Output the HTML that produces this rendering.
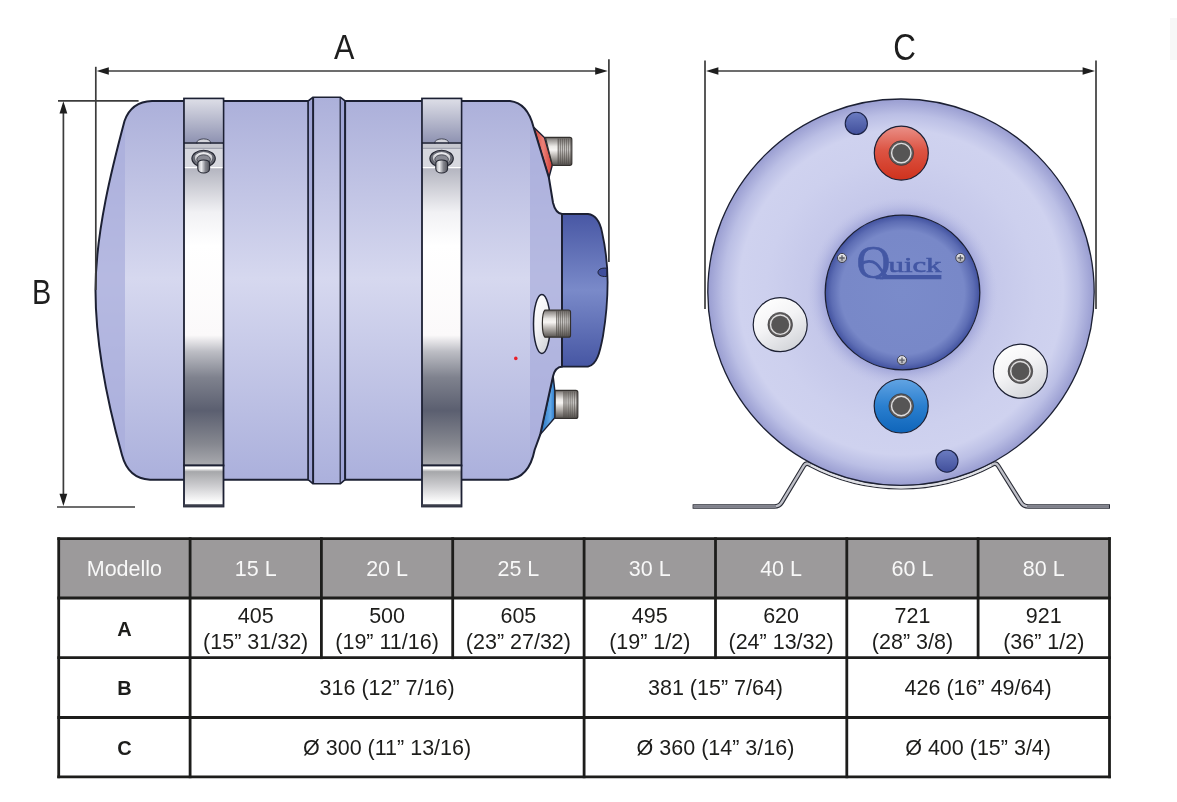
<!DOCTYPE html>
<html><head><meta charset="utf-8"><title>Boiler dimensions</title>
<style>
html,body{margin:0;padding:0;background:#fff;}
body{width:1177px;height:802px;overflow:hidden;font-family:"Liberation Sans",sans-serif;}
svg{display:block;will-change:transform}
</style></head><body>
<svg width="1177" height="802" viewBox="0 0 1177 802" font-family="Liberation Sans, sans-serif">
<defs>
<linearGradient id="gBody" x1="0" y1="0" x2="0" y2="1">
 <stop offset="0" stop-color="#acb0da"/><stop offset="0.47" stop-color="#d6d8ef"/><stop offset="1" stop-color="#abb0dc"/>
</linearGradient>
<linearGradient id="gStrap" x1="0" y1="0" x2="0" y2="1">
 <stop offset="0" stop-color="#9fa3ba"/><stop offset="0.19" stop-color="#b4b5c0"/><stop offset="0.31" stop-color="#f1f1f4"/><stop offset="0.40" stop-color="#ffffff"/><stop offset="0.645" stop-color="#fbf9fa"/>
 <stop offset="0.69" stop-color="#bcbdc4"/><stop offset="0.76" stop-color="#7f828e"/><stop offset="0.85" stop-color="#5b5f70"/><stop offset="0.94" stop-color="#85878f"/><stop offset="1" stop-color="#a9aaaf"/>
</linearGradient>
<linearGradient id="gStrapTop" x1="0" y1="0" x2="0" y2="1">
 <stop offset="0" stop-color="#dcdde6"/><stop offset="1" stop-color="#8f93b2"/>
</linearGradient>
<linearGradient id="gFoot" x1="0" y1="0" x2="0" y2="1">
 <stop offset="0" stop-color="#ffffff"/><stop offset="0.07" stop-color="#ffffff"/><stop offset="0.15" stop-color="#a6a7aa"/><stop offset="0.5" stop-color="#cdcdd0"/><stop offset="0.88" stop-color="#fcfcfc"/><stop offset="1" stop-color="#ffffff"/>
</linearGradient>
<linearGradient id="gCap" x1="0" y1="0" x2="0" y2="1">
 <stop offset="0" stop-color="#4857a4"/><stop offset="0.5" stop-color="#7a8ac9"/><stop offset="1" stop-color="#4656a3"/>
</linearGradient>
<linearGradient id="gPipe" x1="0" y1="0" x2="0" y2="1">
 <stop offset="0" stop-color="#55514e"/><stop offset="0.08" stop-color="#96928f"/><stop offset="0.32" stop-color="#ebe9e6"/><stop offset="0.45" stop-color="#f7f5f3"/><stop offset="0.62" stop-color="#c6c2be"/><stop offset="0.82" stop-color="#8c8884"/><stop offset="1" stop-color="#56524f"/>
</linearGradient>
<radialGradient id="gDisc" cx="0.5" cy="0.5" r="0.5">
 <stop offset="0" stop-color="#bcc0e6"/><stop offset="0.42" stop-color="#c3c6e9"/><stop offset="0.7" stop-color="#cdd0ee"/><stop offset="0.84" stop-color="#cfd2ef"/><stop offset="0.92" stop-color="#bbbfe5"/><stop offset="1" stop-color="#999dd1"/>
</radialGradient>
<radialGradient id="gCapF" cx="0.5" cy="0.5" r="0.5">
 <stop offset="0" stop-color="#7a8bca"/><stop offset="0.80" stop-color="#7888c8"/><stop offset="0.92" stop-color="#5d6db4"/><stop offset="1" stop-color="#4252a0"/>
</radialGradient>
<linearGradient id="gWhite" x1="0.2" y1="0" x2="0.8" y2="1">
 <stop offset="0" stop-color="#ffffff"/><stop offset="0.45" stop-color="#f3f3f5"/><stop offset="1" stop-color="#cfd1d6"/>
</linearGradient>
<linearGradient id="gRed" x1="0" y1="0" x2="0" y2="1">
 <stop offset="0" stop-color="#ea9088"/><stop offset="0.45" stop-color="#dc5443"/><stop offset="1" stop-color="#cf321d"/>
</linearGradient>
<linearGradient id="gBlue" x1="0" y1="0" x2="0" y2="1">
 <stop offset="0" stop-color="#62a4e3"/><stop offset="0.5" stop-color="#2a7fcf"/><stop offset="1" stop-color="#0f65ba"/>
</linearGradient>
<linearGradient id="gDot" x1="0" y1="0" x2="0" y2="1">
 <stop offset="0" stop-color="#6b7cc1"/><stop offset="1" stop-color="#414f9b"/>
</linearGradient>
<linearGradient id="gRedS" x1="0" y1="0" x2="1" y2="0"><stop offset="0" stop-color="#d43c34"/><stop offset="0.5" stop-color="#ea8279"/><stop offset="1" stop-color="#d43c34"/></linearGradient>
<linearGradient id="gBlueS" x1="0" y1="0" x2="1" y2="0"><stop offset="0" stop-color="#1f6fbe"/><stop offset="0.7" stop-color="#63a8e6"/><stop offset="1" stop-color="#2a7acb"/></linearGradient>
<linearGradient id="gNut" x1="0" y1="0" x2="1" y2="0"><stop offset="0" stop-color="#a9aab0"/><stop offset="0.3" stop-color="#ededf0"/><stop offset="0.65" stop-color="#83848c"/><stop offset="1" stop-color="#55565e"/></linearGradient>
<linearGradient id="gWash" x1="0" y1="0" x2="0" y2="1"><stop offset="0" stop-color="#f4f4f6"/><stop offset="1" stop-color="#a6a7ae"/></linearGradient>
<radialGradient id="gHalo" cx="0.5" cy="0.5" r="0.5"><stop offset="0.8" stop-color="#9297d2" stop-opacity="0.75"/><stop offset="0.9" stop-color="#9ea3d8" stop-opacity="0.3"/><stop offset="1" stop-color="#b9bde5" stop-opacity="0"/></radialGradient>
<clipPath id="cTank"><path id="pTank" d="M152,101 C138,101.500 129,108 124.500,121 C112.500,166 95.500,232 95.500,290 C95.500,348 110,412 122,455 C126,470 134,478.900 150,479.700 L507,479.700 C523,478.900 531,468 534.600,450 L540.200,434.600 L553.100,376 C554.500,370 557,367 562,366.400 L562,214 C557,213.300 554.500,209 553,202.700 L548.900,177.800 L533.500,127 C530,113 523,102.500 510,101 Z"/></clipPath>

</defs>
<rect width="1177" height="802" fill="#ffffff"/>
<g id="side">
<!-- blue/red fittings behind body -->
<path d="M533.500,127 L544.400,137.400 L552.400,164.800 L548.900,177.800 Z" fill="url(#gRedS)" stroke="#1c2033" stroke-width="1.400" stroke-linejoin="round"/>
<path d="M553.100,375.700 L554.800,390.300 L554.800,417.800 L540.200,434.600 Z" fill="url(#gBlueS)" stroke="#1c2033" stroke-width="1.400" stroke-linejoin="round"/>
<!-- pipes -->
<g id="pipeTop"><path d="M545.400,137.400 H569.800 Q571.800,137.400 571.800,139.400 V163.300 Q571.800,165.300 569.800,165.300 H552.400 Z" fill="url(#gPipe)" stroke="#33302e" stroke-width="1.200"/>
<path d="M558.2,138.6V164.2M560.2,138.6V164.2M562.2,138.6V164.2M564.2,138.6V164.2M566.2,138.6V164.2M568.2,138.6V164.2M570.2,138.6V164.2" stroke="#4b4744" stroke-width="1" fill="none" opacity="0.9"/></g>
<g id="pipeBot"><path d="M555.200,390.300 H575.800 Q577.800,390.300 577.800,392.300 V416.400 Q577.800,418.400 575.800,418.400 H555.200 Z" fill="url(#gPipe)" stroke="#33302e" stroke-width="1.200"/>
<path d="M564.0,391.5V417.2M566.0,391.5V417.2M568.1,391.5V417.2M570.1,391.5V417.2M572.1,391.5V417.2M574.2,391.5V417.2M576.2,391.5V417.2" stroke="#4b4744" stroke-width="1" fill="none" opacity="0.9"/></g>
<!-- cap -->
<path d="M561,214 L588,214 C596,215 600,222 602,232 C606,250 607.600,266 607.600,282 C607.600,300 606,318 603,336 C600,352 597,365 588,366.600 L561,366.600 Z" fill="url(#gCap)" stroke="#1c2033" stroke-width="1.8"/>
<path d="M606.800,268.200 C600.500,267.500 598,270 598,272.300 C598,274.600 600.500,277 606.800,276.400 Z" fill="#3f4e9c" stroke="#1c2033" stroke-width="1"/>
<!-- body -->
<use href="#pTank" fill="url(#gBody)"/>
<g clip-path="url(#cTank)">
 <rect x="90" y="95" width="35" height="390" fill="#a8addb" opacity="0.7"/>
 <rect x="530" y="95" width="40" height="390" fill="#a8addb" opacity="0.7"/>
</g>
<use href="#pTank" fill="none" stroke="#1c2033" stroke-width="2"/>
<!-- center ring -->
<path d="M308.200,101 L313.100,97.200 L340.200,97.200 L345.100,101 L345.100,479.700 L340.200,483.800 L313.100,483.800 L308.200,479.700 Z" fill="url(#gBody)" stroke="#1c2033" stroke-width="1.6" stroke-linejoin="round"/>
<rect x="308.200" y="101" width="4.900" height="378.700" fill="#8d93cd" opacity="0.5"/>
<rect x="340.200" y="101" width="4.900" height="378.700" fill="#8d93cd" opacity="0.5"/>
<path d="M313.100,97.200V483.800" stroke="#1c2033" stroke-width="2"/>
<path d="M340.200,97.200V483.800" stroke="#1c2033" stroke-width="1.200"/>
<path d="M308.200,101V479.700" stroke="#1c2033" stroke-width="1.200"/>
<path d="M345.100,101V479.700" stroke="#1c2033" stroke-width="2"/>
<!-- straps -->
<g id="strap1">
 <rect x="184" y="98.500" width="39.500" height="367" fill="url(#gStrap)" stroke="#1c2033" stroke-width="1.8"/>
 <rect x="184.900" y="99.400" width="37.700" height="43" fill="url(#gStrapTop)"/>
 <rect x="184" y="465.500" width="39.500" height="41" fill="url(#gFoot)" stroke="#1c2033" stroke-width="1.8"/>
 <path d="M184,505.500H223.500" stroke="#3a3d4a" stroke-width="2.500"/>
 <ellipse cx="203.700" cy="142.700" rx="7" ry="3.800" fill="#d3d4db" stroke="#3a3d4c" stroke-width="0.900"/>
 <rect x="184.900" y="143.600" width="37.700" height="4.600" fill="#c6c7cf"/>
 <path d="M184,143H223.500" stroke="#1c2033" stroke-width="1.400"/>
 <rect x="184.900" y="148.500" width="37.700" height="19" fill="#d7d8df"/>
 <path d="M184.900,148.300H222.600" stroke="#8e90a0" stroke-width="0.800"/>
 <path d="M184.900,167.600H222.600" stroke="#ffffff" stroke-width="1.200"/>
 <ellipse cx="203.600" cy="158.600" rx="11.700" ry="8.300" fill="#6c6e78" stroke="#262833" stroke-width="1.100"/>
 <ellipse cx="203.600" cy="158" rx="9.300" ry="6.300" fill="url(#gWash)" stroke="#4a4c57" stroke-width="0.700"/>
 <ellipse cx="203.600" cy="159.300" rx="6.800" ry="4.500" fill="#8a8b94" stroke="#3a3c46" stroke-width="0.800"/>
 <path d="M197.800,163.500 C197.800,158.800 209.600,158.800 209.600,163.500 L209.600,168.500 C209.600,174.500 197.800,174.500 197.800,168.500 Z" fill="url(#gNut)" stroke="#262833" stroke-width="1.100"/>
</g>
<use href="#strap1" x="238"/>
<!-- white ellipse + middle pipe -->
<ellipse cx="541.900" cy="324" rx="8.400" ry="29.500" fill="url(#gWhite)" stroke="#1c2033" stroke-width="1.500"/>
<g id="pipeMid"><path d="M545,310 H568.500 Q570.500,310 570.500,312 V335.200 Q570.500,337.200 568.500,337.200 H545 C541.500,334 541.500,313 545,310 Z" fill="url(#gPipe)" stroke="#33302e" stroke-width="1.200"/>
<path d="M556.8,311.2V336.0M558.8,311.2V336.0M560.8,311.2V336.0M562.8,311.2V336.0M564.9,311.2V336.0M566.9,311.2V336.0M568.9,311.2V336.0" stroke="#4b4744" stroke-width="1" fill="none" opacity="0.9"/></g>
<circle cx="515.800" cy="358.400" r="1.800" fill="#e8202a"/>
<!-- dimension A -->
<g stroke="#3c3c3c" stroke-width="1.700" fill="none">
 <path d="M95.800,66.800V290"/><path d="M608.900,59.200V262"/><path d="M100,71H604"/>
 <path d="M58,100.900H138.600"/><path d="M57,507H135"/><path d="M63.400,105V502"/>
</g>
<g fill="#1e1e1e">
 <path d="M96.600,71L108.800,67.200V74.800Z"/><path d="M607.800,71L595.200,67.200V74.800Z"/>
 <path d="M63.400,101.300L59.500,113.400H67.300Z"/><path d="M63.400,506L59.500,493.800H67.300Z"/>
</g>
<text transform="translate(344.300,59.100) scale(0.850,1)" text-anchor="middle" font-size="36" fill="#1e1e1e">A</text>
<text transform="translate(41.700,304.200) scale(0.800,1)" text-anchor="middle" font-size="36" fill="#1e1e1e">B</text>
</g>

<g id="endview">
<!-- bracket -->
<path d="M692.600,506.500 L774.300,506.500 Q779.300,506.500 781.900,502.200 L803.800,465.900 Q805.900,462.500 809,464.130 A195,195 0 0 0 993,464.130 Q996.100,462.500 998.200,465.900 L1020.900,502.200 Q1023.500,506.500 1028.500,506.500 L1110,506.500" fill="none" stroke="#2a2c36" stroke-width="4.600"/>
<path d="M693.600,506.500 L774.300,506.500 Q779.300,506.500 781.900,502.200 L803.800,465.900 Q805.900,462.500 809,464.130 A195,195 0 0 0 993,464.130 Q996.100,462.500 998.200,465.900 L1020.900,502.200 Q1023.500,506.500 1028.500,506.500 L1109,506.500" fill="none" stroke="#bfc0c8" stroke-width="2.400"/>
<path d="M693.600,506.500 L776,506.500 M1027,506.500 L1109,506.500" fill="none" stroke="#7f808a" stroke-width="2.400"/>
<path d="M811,465.190 A195,195 0 0 0 991,465.190" fill="none" stroke="#e0e1e6" stroke-width="2.400"/>
<circle cx="901" cy="292.200" r="193.200" fill="url(#gDisc)" stroke="#1c2033" stroke-width="1.300"/>
<circle cx="902.500" cy="292.500" r="95" fill="url(#gHalo)"/>
<circle cx="902.500" cy="292.500" r="77.300" fill="url(#gCapF)" stroke="#1c2033" stroke-width="1.300"/>
<!-- logo -->
<g fill="#4357a4">
 <clipPath id="cQ"><rect x="850" y="240" width="100" height="39.200"/></clipPath>
 <text clip-path="url(#cQ)" font-family="Liberation Serif, serif" stroke="#4357a4" stroke-width="0.600"><tspan x="856.400" y="278" font-size="47">Q</tspan><tspan x="888.500" y="272.300" font-size="21" textLength="53" lengthAdjust="spacingAndGlyphs">uick</tspan></text>
 <path d="M861,264.200 C866,260.600 872,260.600 876,263.600 C880,266.600 881.500,272 886.500,276" fill="none" stroke="#4357a4" stroke-width="2.700"/>
 <path d="M883,275 H941.400 V279.200 H880 Z"/>
</g>
<!-- screws -->
<g id="screw"><circle cx="842" cy="258" r="4.600" fill="url(#gWash)" stroke="#3f4252" stroke-width="1"/><path d="M839.300,258h5.400M842,255.300v5.400" stroke="#5a5c66" stroke-width="1.300"/></g>
<use href="#screw" x="118.400"/>
<use href="#screw" x="60" y="102.200"/>
<!-- ports -->
<circle cx="901.300" cy="153.100" r="27" fill="url(#gRed)" stroke="#1c2033" stroke-width="1.200"/>
<g id="hole" transform="translate(901.300,153.100)"><circle r="12.300" fill="#5f5c5c" stroke="#2d2d30" stroke-width="0.600"/><circle r="9.700" fill="none" stroke="#dededf" stroke-width="1.400"/><circle r="8.300" fill="#565555"/></g>
<circle cx="901.200" cy="406" r="27" fill="url(#gBlue)" stroke="#1c2033" stroke-width="1.200"/>
<use href="#hole" x="-0.100" y="252.900"/>
<circle cx="780.200" cy="324.700" r="27" fill="url(#gWhite)" stroke="#1c2033" stroke-width="1.200"/>
<use href="#hole" x="-121.100" y="171.600"/>
<circle cx="1020.400" cy="371.200" r="27" fill="url(#gWhite)" stroke="#1c2033" stroke-width="1.200"/>
<use href="#hole" x="119.100" y="218.100"/>
<circle cx="856.300" cy="123.400" r="11.100" fill="url(#gDot)" stroke="#1c2346" stroke-width="1.100"/>
<circle cx="946.900" cy="461.100" r="11.100" fill="url(#gDot)" stroke="#1c2346" stroke-width="1.100"/>
<!-- dimension C -->
<g stroke="#3c3c3c" stroke-width="1.700" fill="none">
 <path d="M705,60.500V309"/><path d="M1096,60.500V309"/><path d="M710,71H1091"/>
</g>
<g fill="#1e1e1e"><path d="M706,71L718.400,67.200V74.800Z"/><path d="M1095,71L1082.600,67.200V74.800Z"/></g>
<text transform="translate(904.500,60.300) scale(0.870,1)" text-anchor="middle" font-size="36" fill="#1e1e1e">C</text>
<rect x="1170" y="18" width="7" height="42" fill="#f7f7f7"/>
</g>

<g id="table">
<rect x="58.7" y="538.7" width="1050.8" height="59.3" fill="#9c9a9b"/>
<g stroke="#1d1d1b" stroke-width="2.800" fill="none" stroke-linecap="square">
<path d="M58.7,538.7H1109.5"/>
<path d="M58.7,598.0H1109.5"/>
<path d="M58.7,657.7H1109.5"/>
<path d="M58.7,717.5H1109.5"/>
<path d="M58.7,776.8H1109.5"/>
<path d="M58.7,538.7V776.8"/>
<path d="M190.1,538.7V776.8"/>
<path d="M584.1,538.7V776.8"/>
<path d="M846.8,538.7V776.8"/>
<path d="M1109.5,538.7V776.8"/>
<path d="M321.4,538.7V657.7"/>
<path d="M452.7,538.7V657.7"/>
<path d="M715.5,538.7V657.7"/>
<path d="M978.1,538.7V657.7"/>
</g>
<text x="124.4" y="575.7" text-anchor="middle" font-size="21.5" fill="#f8f8f8">Modello</text>
<text x="255.7" y="575.7" text-anchor="middle" font-size="21.5" fill="#f8f8f8">15 L</text>
<text x="387.1" y="575.7" text-anchor="middle" font-size="21.5" fill="#f8f8f8">20 L</text>
<text x="518.4" y="575.7" text-anchor="middle" font-size="21.5" fill="#f8f8f8">25 L</text>
<text x="649.8" y="575.7" text-anchor="middle" font-size="21.5" fill="#f8f8f8">30 L</text>
<text x="781.1" y="575.7" text-anchor="middle" font-size="21.5" fill="#f8f8f8">40 L</text>
<text x="912.5" y="575.7" text-anchor="middle" font-size="21.5" fill="#f8f8f8">60 L</text>
<text x="1043.8" y="575.7" text-anchor="middle" font-size="21.5" fill="#f8f8f8">80 L</text>
<text x="124.4" y="636.0" text-anchor="middle" font-size="20" fill="#1d1d1b" font-weight="bold">A</text>
<text x="124.4" y="695.3" text-anchor="middle" font-size="20" fill="#1d1d1b" font-weight="bold">B</text>
<text x="124.4" y="755.0" text-anchor="middle" font-size="20" fill="#1d1d1b" font-weight="bold">C</text>
<text x="255.7" y="622.9" text-anchor="middle" font-size="21.5" fill="#1d1d1b">405</text>
<text x="255.7" y="648.9" text-anchor="middle" font-size="21.5" fill="#1d1d1b">(15” 31/32)</text>
<text x="387.1" y="622.9" text-anchor="middle" font-size="21.5" fill="#1d1d1b">500</text>
<text x="387.1" y="648.9" text-anchor="middle" font-size="21.5" fill="#1d1d1b">(19” 11/16)</text>
<text x="518.4" y="622.9" text-anchor="middle" font-size="21.5" fill="#1d1d1b">605</text>
<text x="518.4" y="648.9" text-anchor="middle" font-size="21.5" fill="#1d1d1b">(23” 27/32)</text>
<text x="649.8" y="622.9" text-anchor="middle" font-size="21.5" fill="#1d1d1b">495</text>
<text x="649.8" y="648.9" text-anchor="middle" font-size="21.5" fill="#1d1d1b">(19” 1/2)</text>
<text x="781.1" y="622.9" text-anchor="middle" font-size="21.5" fill="#1d1d1b">620</text>
<text x="781.1" y="648.9" text-anchor="middle" font-size="21.5" fill="#1d1d1b">(24” 13/32)</text>
<text x="912.5" y="622.9" text-anchor="middle" font-size="21.5" fill="#1d1d1b">721</text>
<text x="912.5" y="648.9" text-anchor="middle" font-size="21.5" fill="#1d1d1b">(28” 3/8)</text>
<text x="1043.8" y="622.9" text-anchor="middle" font-size="21.5" fill="#1d1d1b">921</text>
<text x="1043.8" y="648.9" text-anchor="middle" font-size="21.5" fill="#1d1d1b">(36” 1/2)</text>
<text x="387.1" y="695.3" text-anchor="middle" font-size="21.5" fill="#1d1d1b">316 (12” 7/16)</text>
<text x="715.5" y="695.3" text-anchor="middle" font-size="21.5" fill="#1d1d1b">381 (15” 7/64)</text>
<text x="978.1" y="695.3" text-anchor="middle" font-size="21.5" fill="#1d1d1b">426 (16” 49/64)</text>
<text x="387.1" y="755.1" text-anchor="middle" font-size="21.5" fill="#1d1d1b">Ø 300 (11” 13/16)</text>
<text x="715.5" y="755.1" text-anchor="middle" font-size="21.5" fill="#1d1d1b">Ø 360 (14” 3/16)</text>
<text x="978.1" y="755.1" text-anchor="middle" font-size="21.5" fill="#1d1d1b">Ø 400 (15” 3/4)</text>
</g>
</svg>
</body></html>
